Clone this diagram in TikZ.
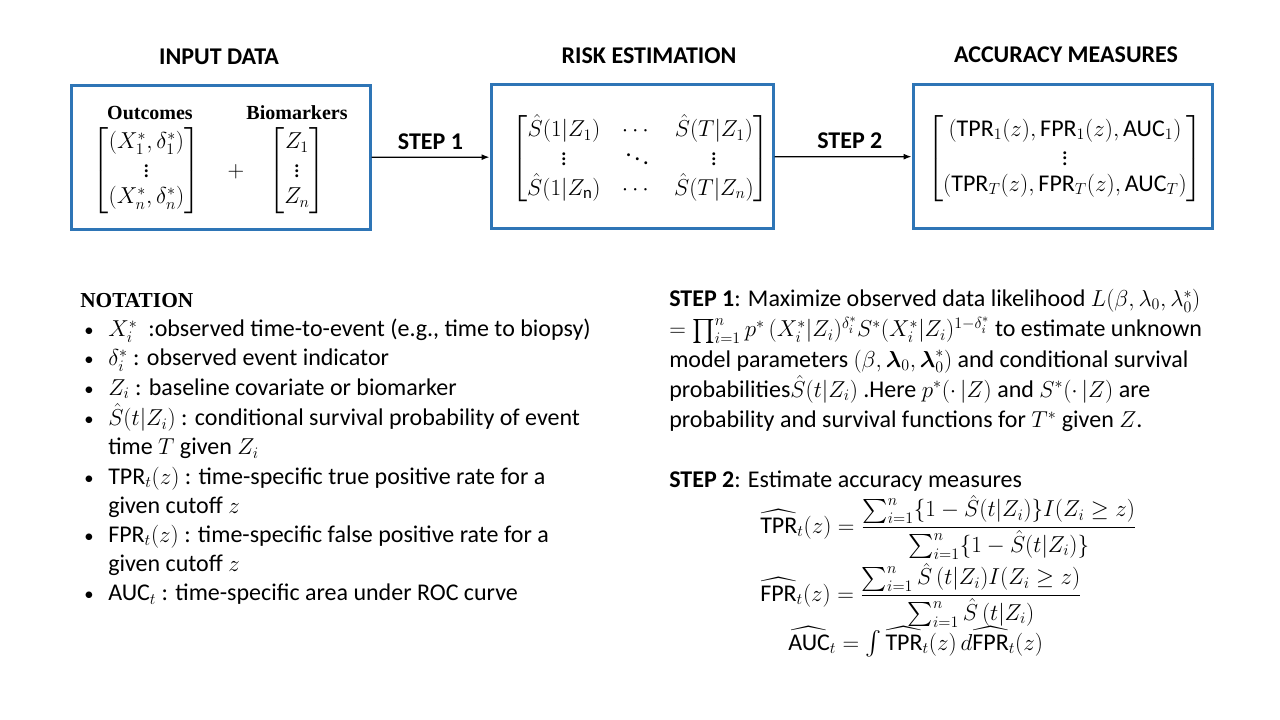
\documentclass[tikz,border=0pt]{standalone}
\usepackage{amsmath,amssymb}
\usepackage{fontspec}
\setmainfont{Carlito}
\newfontfamily\headserif{Liberation Serif}
\usetikzlibrary{positioning,arrows.meta}
\definecolor{boxblue}{RGB}{46,117,182}
\newcommand{\smallbullet}{{\fontsize{14}{14}\selectfont\textbullet}}

\begin{document}
\begin{tikzpicture}[x=0.75pt,y=-0.75pt,
  every node/.style={font=\fontsize{18}{21.6}\selectfont},
  panel/.style={draw=boxblue,line width=2.25pt,minimum height=108pt},
  heading/.style={font=\fontsize{18}{21.6}\selectfont\bfseries},
  colhead/.style={font=\fontsize{15}{17}\selectfont\headserif\bfseries},
  mat/.style={font=\fontsize{18}{19.5}\selectfont},
  flow/.style={-{Latex[length=6pt,width=4.5pt]},line width=0.9pt}
]
\useasboundingbox (0,0) rectangle (1280,720);

\node[panel,minimum width=224.25pt] (input) at (220.5,157.5) {};
\node[panel,minimum width=211.5pt] (risk) at (632,157) {};
\node[panel,minimum width=224.25pt] (accuracy) at (1062.5,156.5) {};

\node[heading] (inputhead) at (219,57) {INPUT DATA};
\node[heading] (riskhead) at (649,56) {RISK ESTIMATION};
\node[heading] (accuracyhead) at (1066,55) {ACCURACY MEASURES};

\node[colhead] (outhead) at (150,113) {Outcomes};
\node[colhead] (biohead) at (297,113) {Biomarkers};
\node[mat] (outmat) at (146.5,171) {$\begin{bmatrix}(X_1^*,\delta_1^*)\\ \vdots\\ (X_n^*,\delta_n^*)\end{bmatrix}$};
\node[mat] (plus) at (236,172) {$+$};
\node[mat] (biomat) at (297,171) {$\begin{bmatrix}Z_1\\ \vdots\\ Z_n\end{bmatrix}$};

\node[mat] (riskmat) at (640.5,159) {\setlength\arraycolsep{8pt}$\begin{bmatrix}
  \hat{S}(1|Z_1) & \cdots & \hat{S}(T|Z_1)\\
  \vdots & \ddots & \vdots\\
  \hat{S}(1|Z_{\mathrm{n}}) & \cdots & \hat{S}(T|Z_n)\end{bmatrix}$};
\node[mat] (accmat) at (1065,158.5) {$\begin{bmatrix}
  \,(\text{TPR}_1(z),\text{FPR}_1(z),\text{AUC}_1)\,\\
  \vdots\\
  (\text{TPR}_T(z),\text{FPR}_T(z),\text{AUC}_T)\end{bmatrix}$};

\draw[flow] (input) -- node[heading,above=2pt] (step1) {STEP 1} (risk);
\draw[flow] (risk) -- node[heading,above=2pt,pos=0.55] (step2) {STEP 2} (accuracy);

\node[anchor=west,inner sep=0pt,font=\fontsize{16}{19}\selectfont\headserif\bfseries] (notation) at (80,301) {NOTATION};
\node[anchor=north west,inner sep=0pt,font=\fontsize{18}{21.9}\selectfont] (notelist) at (84,316) {%
  \begin{tabular}{@{}p{18pt}@{}l@{}}
  \smallbullet & $X_i^*$\ \ :observed time-to-event (e.g., time to biopsy)\\
  \smallbullet & $\delta_i^*$ : observed event indicator\\
  \smallbullet & $Z_i$ : baseline covariate or biomarker\\
  \smallbullet & $\hat{S}(t|Z_i)$ : conditional survival probability of event\\
   & time $T$ given $Z_i$\\
  \smallbullet & $\text{TPR}_t(z)$ : time-specific true positive rate for a\\
   & given cutoff $z$\\
  \smallbullet & $\text{FPR}_t(z)$ : time-specific false positive rate for a\\
   & given cutoff $z$\\
  \smallbullet & $\text{AUC}_t$ : time-specific area under ROC curve
  \end{tabular}};

\node[anchor=north west,align=left,inner sep=0pt,font=\fontsize{18}{22.7}\selectfont] (step1text) at (669,289) {%
  \textbf{STEP 1}: Maximize observed data likelihood $L(\beta,\lambda_0,\lambda_0^*)$\\
  $=\prod_{i=1}^{n}p^*\,(X_i^*|Z_i)^{\delta_i^*}S^*(X_i^*|Z_i)^{1-\delta_i^*}$ to estimate unknown\\
  model parameters $(\beta,\boldsymbol{\lambda}_0,\boldsymbol{\lambda}_0^*)$ and conditional survival\\
  probabilities$\hat{S}(t|Z_i)$ .Here $p^*(\cdot\,|Z)$ and $S^*(\cdot\,|Z)$ are\\
  probability and survival functions for $T^*$ given $Z$.};

\node[anchor=base west,inner sep=0pt] (step2text) at (669,487) {\textbf{STEP 2}: Estimate accuracy measures};
\node[anchor=base west,inner sep=0pt] (tpreq) at (760,533) {$\widehat{\text{TPR}}_t(z)=\dfrac{\sum_{i=1}^{n}\{1-\hat{S}(t|Z_i)\}I(Z_i\geq z)}{\sum_{i=1}^{n}\{1-\hat{S}(t|Z_i)\}}$};
\node[anchor=base west,inner sep=0pt] (fpreq) at (760,601) {$\widehat{\text{FPR}}_t(z)=\dfrac{\sum_{i=1}^{n}\hat{S}\,(t|Z_i)I(Z_i\geq z)}{\sum_{i=1}^{n}\hat{S}\,(t|Z_i)}$};
\node[anchor=base west,inner sep=0pt] (auceq) at (788,650) {$\widehat{\text{AUC}}_t=\int\widehat{\text{TPR}}_t(z)\,d\widehat{\text{FPR}}_t(z)$};
\end{tikzpicture}
\end{document}
